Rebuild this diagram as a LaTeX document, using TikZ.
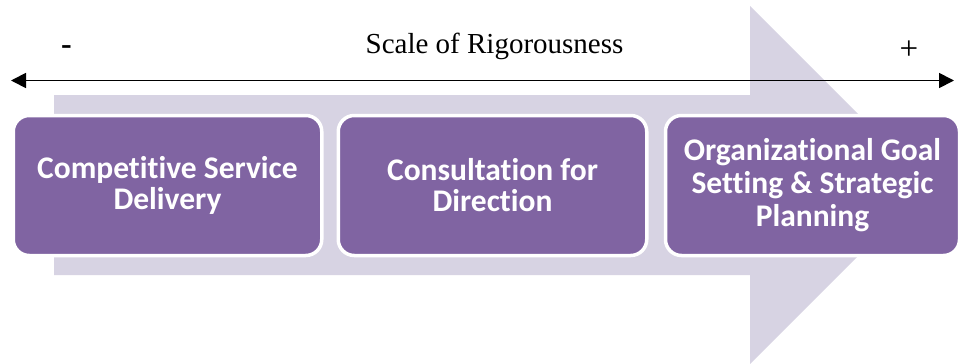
\documentclass[tikz,border=0pt]{standalone}
\usepackage{fontspec}
\setmainfont{Liberation Serif}
\newfontfamily\boxfont[Ligatures=NoCommon]{Carlito}
\usetikzlibrary{arrows.meta}
\definecolor{boxpurple}{HTML}{8064A2}
\definecolor{lavender}{HTML}{D7D3E3}
\tikzset{
  stage/.style={fill=boxpurple, draw=white, line width=3.5pt, rounded corners=16pt,
    minimum height=140pt, text=white, font=\boxfont\bfseries\fontsize{31.5}{31}\selectfont,
    align=center, inner sep=0pt},
  lbl/.style={font=\fontsize{29}{32}\selectfont, inner sep=0pt},
  scalearrow/.style={line width=1.8pt, {Triangle[length=15pt,width=15pt]}-{Triangle[length=15pt,width=15pt]}}
}
\begin{document}
\begin{tikzpicture}[x=1pt,y=-1pt]
\useasboundingbox (0,0) rectangle (959,364);
% big background arrow
\fill[lavender] (54,95) -- (750,95) -- (750,6) -- (929,185) -- (750,364) -- (750,275) -- (54,275) -- cycle;
% scale arrow
\coordinate (L) at (11,80.5);
\coordinate (R) at (954,80.5);
\draw[scalearrow] (L) -- (R);
\node[lbl] (title) at (494.5,46) {Scale of Rigorousness};
\node[lbl, font=\bfseries\fontsize{32}{34}\selectfont] (minus) at (66.5,50) {-};
\node[lbl, font=\fontsize{33}{36}\selectfont] (plus) at (909,50) {+};
% stages
\node[stage, minimum width=308.5pt] (s1) at (167.5,185.5) {Competitive Service\\Delivery};
\node[stage, minimum width=308.5pt] (s2) at (492.5,185.5) {Consultation for\\Direction};
\node[stage, minimum width=294pt, font=\boxfont\bfseries\fontsize{31.5}{33}\selectfont] (s3) at (812.5,185.5) {Organizational Goal\\Setting \& Strategic\\Planning};
\end{tikzpicture}
\end{document}
